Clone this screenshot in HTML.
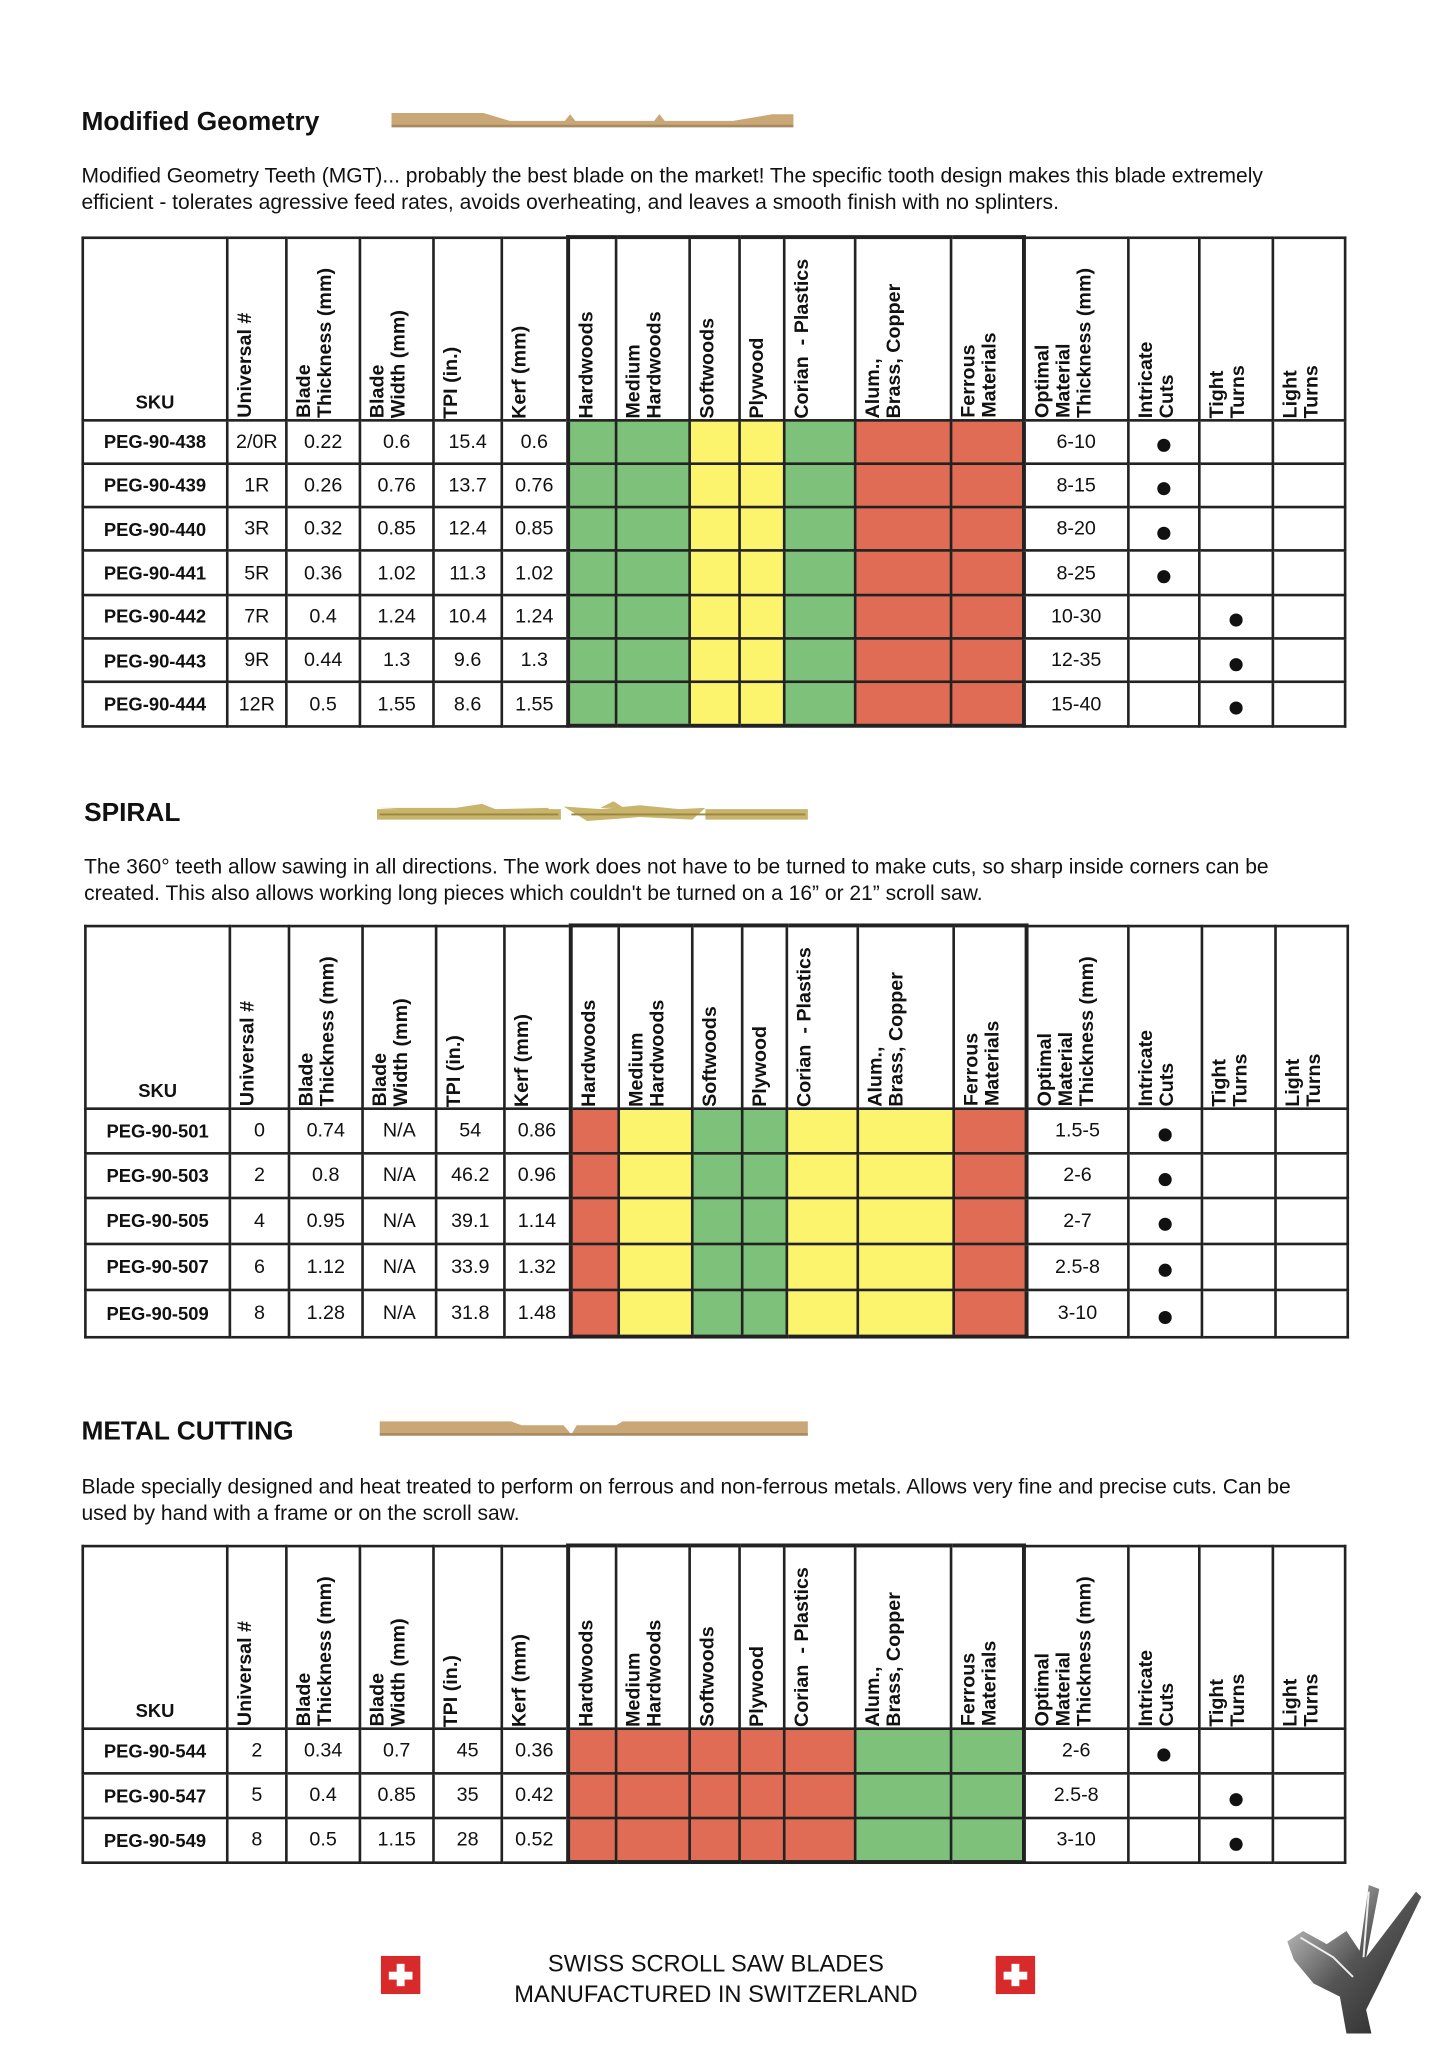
<!DOCTYPE html>
<html><head><meta charset="utf-8">
<style>
html,body{margin:0;padding:0;background:#fff;}
body{width:1445px;height:2064px;overflow:hidden;position:relative;}
#w{position:absolute;left:0;top:0;width:1100px;height:1572px;transform:scale(1.3136);transform-origin:0 0;font-family:"Liberation Sans",Arial,sans-serif;color:#111;}
.t{position:absolute;font-weight:bold;font-size:20px;}
.d{position:absolute;font-size:16px;line-height:20px;width:950px;}
table{position:absolute;border-collapse:collapse;table-layout:fixed;}
td{border:2px solid #222;padding:0;text-align:center;font-size:15px;height:31px;}
#t1 tr{height:33.3px;}
#t3 tr{height:34px;}
tr.h td{height:132px;vertical-align:bottom;text-align:left;}
tr.h td div{writing-mode:vertical-rl;transform:rotate(180deg);font-weight:bold;font-size:15px;line-height:16px;padding:0 0 9px 0;margin-left:5px;white-space:nowrap;}
tr.h td.sku{text-align:center;font-weight:bold;font-size:14px;padding-bottom:5px;}
td.s{font-weight:bold;font-size:14px;}
td.L{border-left:3px solid #222;}
td.R{border-right:3px solid #222;}
tr.h td.m{border-top:3px solid #222;}
tr.last td.m{border-bottom:3px solid #222;}
.g{background:#7dc17a;}.y{background:#fdf46e;}.r{background:#e06c55;}
.dot{font-size:0;}
.dot:after{content:"";display:inline-block;width:10px;height:10px;border-radius:50%;background:#111;vertical-align:middle;margin-top:6px;}
.f{position:absolute;left:330px;width:430px;text-align:center;font-size:18px;line-height:23px;top:1484px;}
.flag{position:absolute;width:30px;height:29px;background:#d82a2a;}
.flag:before{content:"";position:absolute;left:12px;top:6px;width:6px;height:17px;background:#fff;}
.flag:after{content:"";position:absolute;left:6px;top:12px;width:18px;height:6px;background:#fff;}
</style></head><body><div id="w">

<div class="t" style="left:62px;top:82px;">Modified Geometry</div>
<svg style="position:absolute;left:298px;top:84px" width="308" height="16"><path d="M0 2 H70 L90 8 H132 L136 3 L140 8 H200 L204 3 L208 8 H260 L290 3 H306 V12 H0 Z" fill="#c9a777"/><path d="M0 12H306" stroke="#a88a60" stroke-width="2"/></svg>
<div class="d" style="left:62px;top:125px;">Modified Geometry Teeth (MGT)... probably the best blade on the market! The specific tooth design makes this blade extremely efficient - tolerates agressive feed rates, avoids overheating, and leaves a smooth finish with no splinters.</div>

<table id="t1" style="left:62px;top:179px;width:961px;">
<colgroup><col style="width:110px"><col style="width:45px"><col style="width:56px"><col style="width:56px"><col style="width:52px"><col style="width:50px"><col style="width:37px"><col style="width:56px"><col style="width:38px"><col style="width:34px"><col style="width:54px"><col style="width:73px"><col style="width:55px"><col style="width:80px"><col style="width:54px"><col style="width:56px"><col style="width:55px"></colgroup>
<tr class="h"><td class="sku">SKU</td><td><div>Universal #</div></td><td><div>Blade<br>Thickness (mm)</div></td><td><div>Blade<br>Width (mm)</div></td><td><div>TPI (in.)</div></td><td><div>Kerf (mm)</div></td><td class="m L"><div>Hardwoods</div></td><td class="m"><div>Medium<br>Hardwoods</div></td><td class="m"><div>Softwoods</div></td><td class="m"><div>Plywood</div></td><td class="m"><div>Corian&nbsp; - Plastics</div></td><td class="m"><div>Alum.,<br>Brass, Copper</div></td><td class="m R"><div>Ferrous<br>Materials</div></td><td><div>Optimal<br>Material<br>Thickness (mm)</div></td><td><div>Intricate<br>Cuts</div></td><td><div>Tight<br>Turns</div></td><td><div>Light<br>Turns</div></td></tr>
<tr><td class="s">PEG-90-438</td><td>2/0R</td><td>0.22</td><td>0.6</td><td>15.4</td><td>0.6</td><td class="m L g"></td><td class="m g"></td><td class="m y"></td><td class="m y"></td><td class="m g"></td><td class="m r"></td><td class="m R r"></td><td>6-10</td><td class="dot">●</td><td></td><td></td></tr>
<tr><td class="s">PEG-90-439</td><td>1R</td><td>0.26</td><td>0.76</td><td>13.7</td><td>0.76</td><td class="m L g"></td><td class="m g"></td><td class="m y"></td><td class="m y"></td><td class="m g"></td><td class="m r"></td><td class="m R r"></td><td>8-15</td><td class="dot">●</td><td></td><td></td></tr>
<tr><td class="s">PEG-90-440</td><td>3R</td><td>0.32</td><td>0.85</td><td>12.4</td><td>0.85</td><td class="m L g"></td><td class="m g"></td><td class="m y"></td><td class="m y"></td><td class="m g"></td><td class="m r"></td><td class="m R r"></td><td>8-20</td><td class="dot">●</td><td></td><td></td></tr>
<tr><td class="s">PEG-90-441</td><td>5R</td><td>0.36</td><td>1.02</td><td>11.3</td><td>1.02</td><td class="m L g"></td><td class="m g"></td><td class="m y"></td><td class="m y"></td><td class="m g"></td><td class="m r"></td><td class="m R r"></td><td>8-25</td><td class="dot">●</td><td></td><td></td></tr>
<tr><td class="s">PEG-90-442</td><td>7R</td><td>0.4</td><td>1.24</td><td>10.4</td><td>1.24</td><td class="m L g"></td><td class="m g"></td><td class="m y"></td><td class="m y"></td><td class="m g"></td><td class="m r"></td><td class="m R r"></td><td>10-30</td><td></td><td class="dot">●</td><td></td></tr>
<tr><td class="s">PEG-90-443</td><td>9R</td><td>0.44</td><td>1.3</td><td>9.6</td><td>1.3</td><td class="m L g"></td><td class="m g"></td><td class="m y"></td><td class="m y"></td><td class="m g"></td><td class="m r"></td><td class="m R r"></td><td>12-35</td><td></td><td class="dot">●</td><td></td></tr>
<tr class="last"><td class="s">PEG-90-444</td><td>12R</td><td>0.5</td><td>1.55</td><td>8.6</td><td>1.55</td><td class="m L g"></td><td class="m g"></td><td class="m y"></td><td class="m y"></td><td class="m g"></td><td class="m r"></td><td class="m R r"></td><td>15-40</td><td></td><td class="dot">●</td><td></td></tr>
</table>

<div class="t" style="left:64px;top:608px;">SPIRAL</div>
<svg style="position:absolute;left:287px;top:610px" width="330" height="20"><path d="M0 5 H60 L80 2 L90 6 L130 5 L140 14 L125 12 Z M142 4 L170 6 L200 3 L230 6 L250 5 L240 14 L200 12 L160 15 Z M170 5 L180 0 L188 5 Z M250 6 H328 V14 H250 Z M0 6 H140 V14 H0 Z" fill="#c8b46a"/><path d="M2 10 H138 M148 10 H326" stroke="#9a8640" stroke-width="1.5"/></svg>
<div class="d" style="left:64px;top:651px;">The 360° teeth allow sawing in all directions. The work does not have to be turned to make cuts, so sharp inside corners can be created. This also allows working long pieces which couldn't be turned on a 16” or 21” scroll saw.</div>

<table style="left:64px;top:703px;width:961px;">
<colgroup><col style="width:110px"><col style="width:45px"><col style="width:56px"><col style="width:56px"><col style="width:52px"><col style="width:50px"><col style="width:37px"><col style="width:56px"><col style="width:38px"><col style="width:34px"><col style="width:54px"><col style="width:73px"><col style="width:55px"><col style="width:78px"><col style="width:56px"><col style="width:56px"><col style="width:55px"></colgroup>
<tr class="h"><td class="sku">SKU</td><td><div>Universal #</div></td><td><div>Blade<br>Thickness (mm)</div></td><td><div>Blade<br>Width (mm)</div></td><td><div>TPI (in.)</div></td><td><div>Kerf (mm)</div></td><td class="m L"><div>Hardwoods</div></td><td class="m"><div>Medium<br>Hardwoods</div></td><td class="m"><div>Softwoods</div></td><td class="m"><div>Plywood</div></td><td class="m"><div>Corian&nbsp; - Plastics</div></td><td class="m"><div>Alum.,<br>Brass, Copper</div></td><td class="m R"><div>Ferrous<br>Materials</div></td><td><div>Optimal<br>Material<br>Thickness (mm)</div></td><td><div>Intricate<br>Cuts</div></td><td><div>Tight<br>Turns</div></td><td><div>Light<br>Turns</div></td></tr>
<tr style="height:34px"><td class="s">PEG-90-501</td><td>0</td><td>0.74</td><td>N/A</td><td>54</td><td>0.86</td><td class="m L r"></td><td class="m y"></td><td class="m g"></td><td class="m g"></td><td class="m y"></td><td class="m y"></td><td class="m R r"></td><td>1.5-5</td><td class="dot">●</td><td></td><td></td></tr>
<tr style="height:34px"><td class="s">PEG-90-503</td><td>2</td><td>0.8</td><td>N/A</td><td>46.2</td><td>0.96</td><td class="m L r"></td><td class="m y"></td><td class="m g"></td><td class="m g"></td><td class="m y"></td><td class="m y"></td><td class="m R r"></td><td>2-6</td><td class="dot">●</td><td></td><td></td></tr>
<tr style="height:35px"><td class="s">PEG-90-505</td><td>4</td><td>0.95</td><td>N/A</td><td>39.1</td><td>1.14</td><td class="m L r"></td><td class="m y"></td><td class="m g"></td><td class="m g"></td><td class="m y"></td><td class="m y"></td><td class="m R r"></td><td>2-7</td><td class="dot">●</td><td></td><td></td></tr>
<tr style="height:35px"><td class="s">PEG-90-507</td><td>6</td><td>1.12</td><td>N/A</td><td>33.9</td><td>1.32</td><td class="m L r"></td><td class="m y"></td><td class="m g"></td><td class="m g"></td><td class="m y"></td><td class="m y"></td><td class="m R r"></td><td>2.5-8</td><td class="dot">●</td><td></td><td></td></tr>
<tr class="last" style="height:36px"><td class="s">PEG-90-509</td><td>8</td><td>1.28</td><td>N/A</td><td>31.8</td><td>1.48</td><td class="m L r"></td><td class="m y"></td><td class="m g"></td><td class="m g"></td><td class="m y"></td><td class="m y"></td><td class="m R r"></td><td>3-10</td><td class="dot">●</td><td></td><td></td></tr>
</table>

<div class="t" style="left:62px;top:1079px;">METAL CUTTING</div>
<svg style="position:absolute;left:289px;top:1080px" width="328" height="16"><path d="M0 2 H100 L108 5 L140 5 L146 12 L150 5 L180 5 L185 2 H326 V12 H0 Z" fill="#c9a777"/><path d="M0 12H326" stroke="#a88a60" stroke-width="2"/></svg>
<div class="d" style="left:62px;top:1123px;">Blade specially designed and heat treated to perform on ferrous and non-ferrous metals. Allows very fine and precise cuts. Can be used by hand with a frame or on the scroll saw.</div>

<table id="t3" style="left:62px;top:1175px;width:961px;">
<colgroup><col style="width:110px"><col style="width:45px"><col style="width:56px"><col style="width:56px"><col style="width:52px"><col style="width:50px"><col style="width:37px"><col style="width:56px"><col style="width:38px"><col style="width:34px"><col style="width:54px"><col style="width:73px"><col style="width:55px"><col style="width:80px"><col style="width:54px"><col style="width:56px"><col style="width:55px"></colgroup>
<tr class="h"><td class="sku">SKU</td><td><div>Universal #</div></td><td><div>Blade<br>Thickness (mm)</div></td><td><div>Blade<br>Width (mm)</div></td><td><div>TPI (in.)</div></td><td><div>Kerf (mm)</div></td><td class="m L"><div>Hardwoods</div></td><td class="m"><div>Medium<br>Hardwoods</div></td><td class="m"><div>Softwoods</div></td><td class="m"><div>Plywood</div></td><td class="m"><div>Corian&nbsp; - Plastics</div></td><td class="m"><div>Alum.,<br>Brass, Copper</div></td><td class="m R"><div>Ferrous<br>Materials</div></td><td><div>Optimal<br>Material<br>Thickness (mm)</div></td><td><div>Intricate<br>Cuts</div></td><td><div>Tight<br>Turns</div></td><td><div>Light<br>Turns</div></td></tr>
<tr><td class="s">PEG-90-544</td><td>2</td><td>0.34</td><td>0.7</td><td>45</td><td>0.36</td><td class="m L r"></td><td class="m r"></td><td class="m r"></td><td class="m r"></td><td class="m r"></td><td class="m g"></td><td class="m R g"></td><td>2-6</td><td class="dot">●</td><td></td><td></td></tr>
<tr><td class="s">PEG-90-547</td><td>5</td><td>0.4</td><td>0.85</td><td>35</td><td>0.42</td><td class="m L r"></td><td class="m r"></td><td class="m r"></td><td class="m r"></td><td class="m r"></td><td class="m g"></td><td class="m R g"></td><td>2.5-8</td><td></td><td class="dot">●</td><td></td></tr>
<tr class="last"><td class="s">PEG-90-549</td><td>8</td><td>0.5</td><td>1.15</td><td>28</td><td>0.52</td><td class="m L r"></td><td class="m r"></td><td class="m r"></td><td class="m r"></td><td class="m r"></td><td class="m g"></td><td class="m R g"></td><td>3-10</td><td></td><td class="dot">●</td><td></td></tr>
</table>

<div class="flag" style="left:290px;top:1489px;"></div>
<div class="flag" style="left:758px;top:1489px;"></div>
<div class="f">SWISS SCROLL SAW BLADES<br>MANUFACTURED IN SWITZERLAND</div>

<svg style="position:absolute;left:970px;top:1430px" width="115" height="125">
<defs><linearGradient id="gg" x1="0" y1="0" x2="1" y2="1"><stop offset="0" stop-color="#ddd"/><stop offset="0.5" stop-color="#555"/><stop offset="1" stop-color="#222"/></linearGradient></defs>
<path d="M72 5 L80 8 L70 60 L108 10 L112 14 L80 80 L70 100 L74 118 L55 118 L50 90 L30 80 L15 62 L10 48 L22 40 L40 50 L55 40 L65 55 Z" fill="url(#gg)"/>
<path d="M20 45 L45 60 L60 75 M72 10 L68 60" stroke="#eee" stroke-width="1.5" fill="none"/>
</svg>

</div></body></html>
